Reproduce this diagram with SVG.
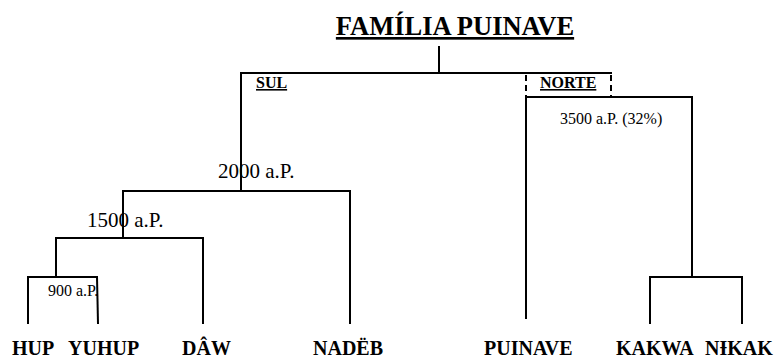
<svg xmlns="http://www.w3.org/2000/svg" width="784" height="358" viewBox="0 0 784 358">
<style>
.ln{stroke:#000;stroke-width:2;fill:none;stroke-linecap:square}
.dash{stroke:#000;stroke-width:2;fill:none;stroke-dasharray:6 4}
.leaf{font-family:"Liberation Serif","Times New Roman",serif;font-weight:bold;font-size:20px;fill:#000}
.age{font-family:"Liberation Serif","Times New Roman",serif;font-size:21px;fill:#000}
.age-s{font-family:"Liberation Serif","Times New Roman",serif;font-size:16px;fill:#000}
.grp{font-family:"Liberation Serif","Times New Roman",serif;font-weight:bold;font-size:16px;fill:#000;text-decoration:underline}
.title{font-family:"Liberation Serif","Times New Roman",serif;font-weight:bold;font-size:26.5px;fill:#000;text-decoration:underline}
</style>
<rect width="784" height="358" fill="#fff"/>
<g id="connectors">
<line class="ln" x1="439" y1="47" x2="439" y2="73"/>
<line class="ln" x1="241" y1="73" x2="611" y2="73"/>
<line class="ln" x1="241" y1="73" x2="241" y2="191"/>
<line class="dash" x1="526" y1="75" x2="526" y2="97"/>
<line class="dash" x1="611" y1="75" x2="611" y2="97"/>
<line class="ln" x1="526" y1="97" x2="692" y2="97"/>
<line class="ln" x1="526" y1="97" x2="526" y2="318"/>
<line class="ln" x1="692" y1="97" x2="692" y2="277"/>
<line class="ln" x1="650" y1="277" x2="742" y2="277"/>
<line class="ln" x1="650" y1="277" x2="650" y2="323"/>
<line class="ln" x1="742" y1="277" x2="742" y2="323"/>
<line class="ln" x1="123" y1="191" x2="350" y2="191"/>
<line class="ln" x1="350" y1="191" x2="350" y2="323"/>
<line class="ln" x1="123" y1="191" x2="123" y2="238"/>
<line class="ln" x1="56" y1="238" x2="203" y2="238"/>
<line class="ln" x1="203" y1="238" x2="203" y2="323"/>
<line class="ln" x1="56" y1="238" x2="56" y2="277"/>
<line class="ln" x1="28" y1="277" x2="97" y2="277"/>
<line class="ln" x1="28" y1="277" x2="28" y2="323"/>
<line class="ln" x1="97" y1="277" x2="98" y2="323"/>
</g>
<g id="title"><text class="title" x="455" y="35" text-anchor="middle">FAMÍLIA PUINAVE</text></g>
<g id="sul"><text class="grp" x="256" y="88">SUL</text></g>
<g id="norte"><text class="grp" x="540" y="88">NORTE</text></g>
<g id="node-3500"><text class="age-s" x="560" y="124">3500 a.P. (32%)</text></g>
<g id="node-2000"><text class="age" x="218" y="178">2000 a.P.</text></g>
<g id="node-1500"><text class="age" x="87" y="227">1500 a.P.</text></g>
<g id="node-900"><text class="age-s" x="48" y="296">900 a.P.</text></g>
<g id="leaf-hup"><text class="leaf" x="12" y="355">HUP</text></g>
<g id="leaf-yuhup"><text class="leaf" x="68" y="355">YUHUP</text></g>
<g id="leaf-daw"><text class="leaf" x="182" y="355">DÂW</text></g>
<g id="leaf-nadeb"><text class="leaf" x="313" y="355">NADËB</text></g>
<g id="leaf-puinave"><text class="leaf" x="484" y="355">PUINAVE</text></g>
<g id="leaf-kakwa"><text class="leaf" x="616" y="355">KAKWA</text></g>
<g id="leaf-nikak"><text class="leaf" x="705" y="355">NƗKAK</text></g>
</svg>
